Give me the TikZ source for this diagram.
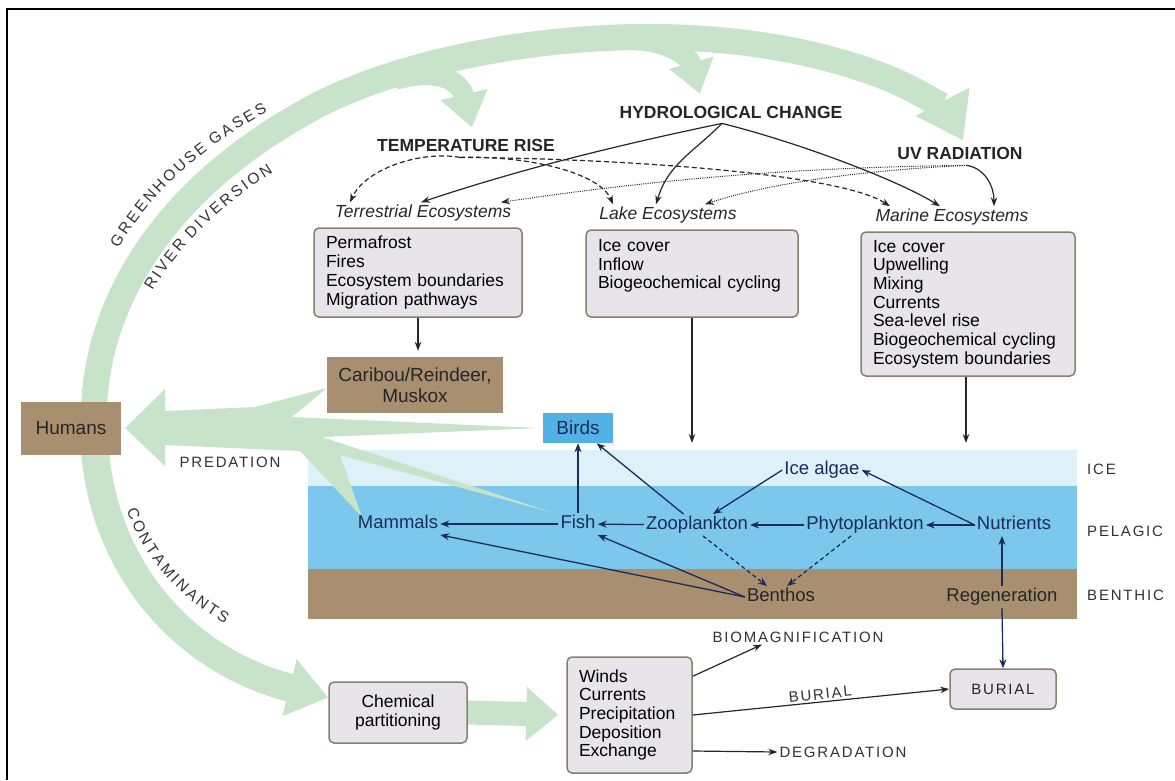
\documentclass[tikz,border=0pt]{standalone}
\usepackage{fontspec}
\setmainfont{Liberation Sans}
\usetikzlibrary{arrows.meta,decorations.text}

\definecolor{flowgreen}{RGB}{199,227,201}
\definecolor{boxfill}{RGB}{231,229,233}
\definecolor{boxline}{RGB}{138,126,110}
\definecolor{earth}{RGB}{168,143,112}
\definecolor{icecol}{RGB}{222,241,249}
\definecolor{seacol}{RGB}{124,199,236}
\definecolor{birdcol}{RGB}{82,178,230}
\definecolor{navy}{RGB}{28,44,88}
\definecolor{ink}{RGB}{38,38,38}
\definecolor{capsgray}{RGB}{50,50,50}

\newcommand{\boxsize}{\fontsize{17.5}{18.7}\selectfont}
\newcommand{\bigsize}{\fontsize{19}{21}\selectfont}
\newcommand{\watersize}{\fontsize{18.5}{20}\selectfont}
\newcommand{\capssize}{\fontsize{15}{17}\selectfont\addfontfeature{LetterSpace=12}}
\newcommand{\arcsize}{\fontsize{15.5}{15.5}\selectfont}
\newcommand{\titlesize}{\fontsize{17.5}{19}\selectfont\bfseries}
\newcommand{\ecosize}{\fontsize{17.5}{19}\selectfont\itshape}
\newcommand{\trk}{\kern2.6pt}

\pgfdeclarelayer{sea}
\pgfdeclarelayer{flow}
\pgfsetlayers{sea,flow,main}

\begin{document}
\begin{tikzpicture}[x=1pt,y=-1pt,
    graybox/.style={draw=boxline,fill=boxfill,line width=1.5pt,rounded corners=5pt,font=\boxsize,inner xsep=12pt},
    brownbox/.style={fill=earth,text=ink,font=\bigsize,align=center,inner sep=0pt},
    water/.style={font=\watersize,text=navy,inner sep=2pt,text height=13.5pt,text depth=4pt},
    caps/.style={font=\capssize,text=capsgray,inner sep=2pt},
    title/.style={font=\titlesize,text=ink,inner sep=2pt},
    ecolabel/.style={font=\ecosize,text=ink,inner sep=2pt,text height=13pt,text depth=4pt},
    feed/.style={navy,line width=1.3pt,-{Stealth[length=9pt,width=7pt]}},
    effect/.style={ink,line width=1.2pt,-{Stealth[length=9pt,width=6.5pt]}},
    band/.style={flowgreen,line width=26pt},
    arclabel/.style={decorate,decoration={text along path,text align=center,text={#1}}}
  ]
  \useasboundingbox (0,0) rectangle (1175,780);
  \draw[line width=2.5pt] (7,780) -- (7,9) -- (1175,9);

  % ice, water column and sediment
  \begin{pgfonlayer}{sea}
    \node[fill=icecol,minimum width=769pt,minimum height=36pt,inner sep=0pt,anchor=north west] (ice) at (308,450) {};
    \node[fill=seacol,minimum width=769pt,minimum height=83pt,inner sep=0pt,anchor=north west] (pelagic) at (308,486) {};
    \node[fill=earth,minimum width=769pt,minimum height=50pt,inner sep=0pt,anchor=north west] (benthic) at (308,569) {};
  \end{pgfonlayer}

  % drivers
  \node[title] (temp) at (466,145) {TEMPERATURE RISE};
  \node[title] (hydro) at (731,112) {HYDROLOGICAL CHANGE};
  \node[title] (uv) at (960,153) {UV RADIATION};
  \node[ecolabel] (terrlab) at (423,213) {Terrestrial Ecosystems};
  \node[ecolabel] (lakelab) at (668,215) {Lake Ecosystems};
  \node[ecolabel] (marinelab) at (952,217) {Marine Ecosystems};

  % ecosystem boxes
  \node[graybox,text width=184pt,minimum height=89pt,align=left] (terr) at (418,272.5) {Permafrost\\Fires\\Ecosystem boundaries\\Migration pathways};
  \node[graybox,text width=188pt,minimum height=87pt,align=left] (lake) at (692,273.5) {Ice cover\\Inflow\\Biogeochemical cycling\\\mbox{}};
  \node[graybox,text width=190pt,minimum height=144pt,align=left] (marine) at (968,304) {Ice cover\\Upwelling\\Mixing\\Currents\\Sea-level rise\\Biogeochemical cycling\\Ecosystem boundaries};

  \node[brownbox,minimum width=100pt,minimum height=53pt] (humans) at (71,428) {Humans};
  \node[brownbox,minimum width=176pt,minimum height=56pt] (caribou) at (415,385) {Caribou/Reindeer,\\Muskox};
  \node[fill=birdcol,font=\bigsize,text=navy,minimum width=70pt,minimum height=30pt,inner sep=0pt] (birds) at (578,428) {Birds};

  % food web
  \node[water] (icealgae) at (822,470) {Ice algae};
  \node[water] (mammals) at (398,524) {Mammals};
  \node[water] (fish) at (578,524) {Fish};
  \node[water] (zoo) at (697,525) {Zooplankton};
  \node[water] (phyto) at (865,525) {Phytoplankton};
  \node[water] (nutrients) at (1014,525) {Nutrients};
  \node[water,text=ink] (benthos) at (781,597) {Benthos};
  \node[water,text=ink] (regen) at (1002,597) {Regeneration};

  \node[caps,anchor=west] (icelab) at (1085,469) {ICE};
  \node[caps,anchor=west] (pelagiclab) at (1085,531) {PELAGIC};
  \node[caps,anchor=west] (benthiclab) at (1085,595) {BENTHIC};
  \node[caps] (predation) at (230,462) {PREDATION};

  % contaminant pathways
  \node[graybox,align=center,minimum width=138pt,minimum height=61pt,inner xsep=0pt] (chem) at (398,712.5) {Chemical\\partitioning};
  \node[graybox,text width=101pt,minimum height=116pt,align=left] (winds) at (629.5,715) {Winds\\Currents\\Precipitation\\Deposition\\Exchange};
  \node[graybox,font=\capssize,text=ink,minimum width=106pt,minimum height=40pt] (burial) at (1003,689) {BURIAL};
  \node[caps] (biomag) at (798,637) {BIOMAGNIFICATION};
  \node[caps] (degr) at (843,752) {DEGRADATION};

  % green flows
  \begin{pgfonlayer}{flow}
    \draw[band,-{Triangle[length=44pt,width=58pt]}] ([xshift=23pt]humans.center) .. controls (90,320) and (150,200) .. (300,115) .. controls (410,48) and (680,0) .. (880,75) .. controls (920,90) and (948,112) .. ([xshift=3pt,yshift=4pt]uv.north);
    \draw[band,line width=20pt,-{Triangle[length=34pt,width=46pt]}] (395,80) .. controls (445,66) and (462,86) .. ([xshift=6pt,yshift=9pt]temp.north);
    \draw[band,line width=20pt,-{Triangle[length=32pt,width=44pt]}] (620,40) .. controls (668,38) and (690,58) .. ([xshift=-31pt,yshift=10pt]hydro.north);
    \draw[band,line width=28pt,-{Triangle[length=40pt,width=56pt]}] ([xshift=23pt]humans.center) .. controls (95,560) and (180,660) .. ([yshift=15pt]chem.west);
    \draw[band,line width=24pt,-{Triangle[length=32pt,width=52pt]},shorten >=8pt] (chem.east) -- (winds.west);
    \fill[flowgreen] ([xshift=4pt]humans.east) -- (165,389) -- (165,411) -- (255,407) -- ([yshift=-3pt]caribou.west) -- (292,417) -- ([xshift=-3pt]birds.west) -- (322,437) -- ([xshift=-24pt]fish.north) -- (340,455) -- ([xshift=-36pt,yshift=-4pt]mammals.north) -- (300,451) -- (165,445) -- (165,466) -- cycle;
  \end{pgfonlayer}

  \path[arclabel={|\arcsize\color{capsgray}|G{\trk}R{\trk}E{\trk}E{\trk}N{\trk}H{\trk}O{\trk}U{\trk}S{\trk}E{\ \trk}G{\trk}A{\trk}S{\trk}E{\trk}S}] (96,296) .. controls (126,211) and (206,131) .. (316,91);
  \path[arclabel={|\arcsize\color{capsgray}|R{\trk}I{\trk}V{\trk}E{\trk}R{\ \trk}D{\trk}I{\trk}V{\trk}E{\trk}R{\trk}S{\trk}I{\trk}O{\trk}N}] (128,348) .. controls (148,273) and (218,193) .. (328,143);
  \path[arclabel={|\arcsize\color{capsgray}|C{\trk}O{\trk}N{\trk}T{\trk}A{\trk}M{\trk}I{\trk}N{\trk}A{\trk}N{\trk}T{\trk}S}] (113,425) .. controls (111,545) and (186,625) .. (306,655);

  % driver arrows
  \draw[effect,dash pattern=on 5pt off 3pt] ([xshift=-6pt,yshift=-4pt]temp.south) .. controls +(-40,-7) and +(15,-33) .. ([xshift=-73pt]terrlab.north);
  \draw[effect,dash pattern=on 5pt off 3pt] ([xshift=-6pt,yshift=-4pt]temp.south) .. controls +(70,-2) and +(-13,-31) .. ([xshift=-55pt]lakelab.north);
  \draw[effect,dash pattern=on 5pt off 3pt] ([xshift=-6pt,yshift=-4pt]temp.south) .. controls +(160,1) and +(-50,-33) .. ([xshift=-62pt]marinelab.north);
  \draw[effect] ([xshift=-9pt,yshift=-3pt]hydro.south) .. controls +(-120,25) and +(90,-30) .. ([xshift=-2pt]terrlab.north);
  \draw[effect] ([xshift=-9pt,yshift=-3pt]hydro.south) .. controls +(-30,30) and +(12,-40) .. ([xshift=-12pt]lakelab.north);
  \draw[effect] ([xshift=-9pt,yshift=-3pt]hydro.south) .. controls +(80,20) and +(-40,-25) .. ([xshift=-12pt]marinelab.north);
  \draw[effect,line width=1pt,dash pattern=on 1pt off 1.2pt] ([xshift=7pt,yshift=-4pt]uv.south) .. controls +(-180,2) and +(150,-22) .. ([xshift=78pt]terrlab.north);
  \draw[effect,line width=1pt,dash pattern=on 1pt off 1.2pt] ([xshift=7pt,yshift=-4pt]uv.south) .. controls +(-110,5) and +(60,-20) .. ([xshift=37pt]lakelab.north);
  \draw[effect] ([xshift=7pt,yshift=-4pt]uv.south) .. controls +(18,3) and +(0,-20) .. ([xshift=42pt]marinelab.north);

  \draw[effect,shorten >=6pt] (terr.south) -- (terr.south |- caribou.north);
  \draw[effect,shorten >=7pt] (lake.south) -- (lake.south |- ice.north);
  \draw[effect,shorten >=7pt] ([xshift=-2pt]marine.south) -- ([xshift=-2pt]marine.south |- ice.north);

  \path[feed] (fish) edge (mammals) (zoo) edge (fish) (phyto) edge (zoo) (nutrients) edge (phyto) (fish) edge (birds) (zoo) edge (birds);
  \draw[feed] (icealgae.west) -- ([xshift=16pt]zoo.north);
  \draw[feed] (nutrients.west) -- (icealgae.east);
  \draw[feed] (benthos.west) -- (fish.south east);
  \draw[feed] (benthos.west) -- (mammals.south east);
  \draw[feed,dash pattern=on 4pt off 3pt] ([xshift=6pt]zoo.south) -- ([xshift=-14pt]benthos.north);
  \draw[feed,dash pattern=on 4pt off 3pt] ([xshift=-14pt]phyto.south) -- ([xshift=6pt]benthos.north);
  \draw[feed] (regen.north) -- (regen.north |- nutrients.south);
  \draw[feed] (regen.south) -- (burial.north);

  \draw[effect] ([yshift=-20pt]winds.north east) -- ([xshift=-36pt]biomag.south);
  \draw[effect] (winds.east) -- node[caps,midway,above,sloped] (buriallab) {BURIAL} (burial.west);
  \draw[effect] ([yshift=-36pt]winds.east) -- (degr.west);
\end{tikzpicture}
\end{document}
